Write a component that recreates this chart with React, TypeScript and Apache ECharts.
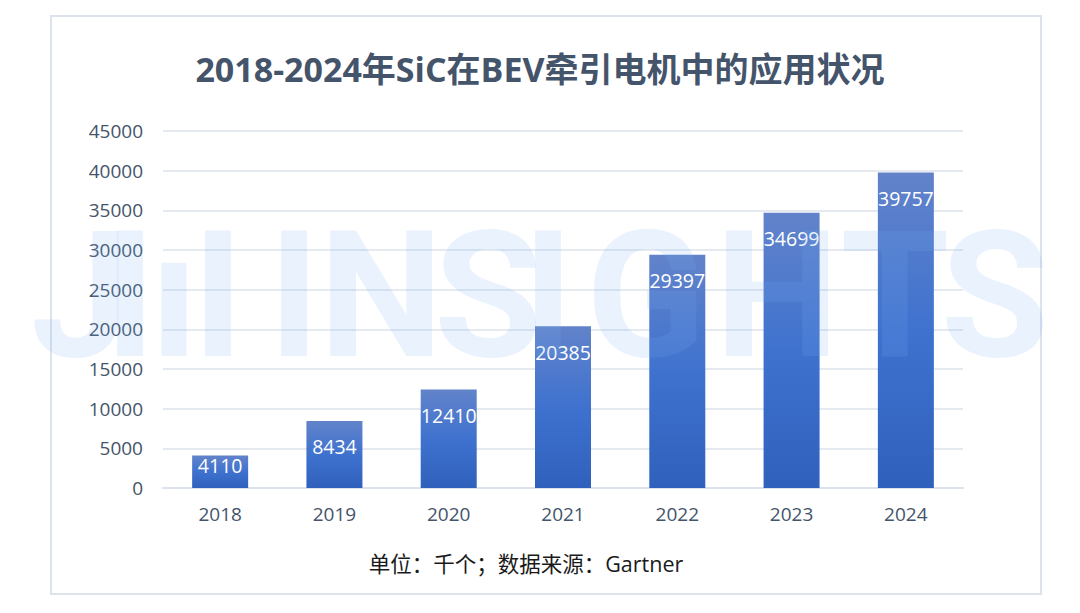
import React, { useEffect, useRef } from "react";
import * as echarts from "echarts";

const categories = ["2018", "2019", "2020", "2021", "2022", "2023", "2024"];
const values = [4110, 8434, 12410, 20385, 29397, 34699, 39757];
const yTicks = { min: 0, max: 45000, interval: 5000 };
const titleText = "2018-2024年SiC在BEV牵引电机中的应用状况";
const footText = "单位：千个；数据来源：Gartner";
const watermarkLetters = ["J", "I", "ı", "I", "I", "N", "S", "I", "G", "H", "T", "S"];
const watermarkCenters = [80, 130, 174, 218, 294, 381, 488, 548, 646, 777, 895, 995];

const FONT = "'Open Sans', 'Noto Sans CJK SC', sans-serif";

export default function App() {
  const ref = useRef<HTMLDivElement>(null);
  useEffect(() => {
    if (!ref.current) return;
    const chart = echarts.init(ref.current, null, { renderer: "svg" });
    const wm = watermarkLetters.map((ch, i) => ({
      type: "text",
      x: watermarkCenters[i],
      y: 296,
      z: 100,
      silent: true,
      style: {
        text: ch,
        fontFamily: "Roboto, sans-serif",
        fontWeight: "bold",
        fontSize: 176,
        fill: "rgba(120,175,245,0.16)",
        align: "center",
        verticalAlign: "middle",
      },
    }));
    const barData = values.map((v) =>
      v < 6000 ? { value: v, label: { distance: 0 } } : v
    );
    chart.setOption({
      animation: false,
      backgroundColor: "#ffffff",
      textStyle: { fontFamily: FONT },
      title: {
        text: titleText,
        left: "center",
        top: 47,
        textStyle: { fontSize: 34, fontWeight: "bold", color: "#44546A", fontFamily: FONT },
      },
      grid: { left: 163, right: 117, top: 131, bottom: 125, containLabel: false },
      xAxis: {
        type: "category",
        data: categories,
        axisTick: { show: false },
        axisLine: { lineStyle: { color: "#dde3ec", width: 2 } },
        axisLabel: { fontSize: 19, color: "#44546A", margin: 16, fontFamily: FONT },
      },
      yAxis: {
        type: "value",
        min: yTicks.min,
        max: yTicks.max,
        interval: yTicks.interval,
        axisLine: { show: false },
        axisTick: { show: false },
        axisLabel: {
          fontSize: 19,
          color: "#44546A",
          margin: 20,
          fontFamily: FONT,
          formatter: (v: number) => String(v),
        },
        splitLine: { lineStyle: { color: "#dde3ec", width: 1.5 } },
      },
      series: [
        {
          type: "bar",
          data: barData,
          barWidth: "49%",
          itemStyle: {
            color: new echarts.graphic.LinearGradient(0, 0, 0, 1, [
              { offset: 0, color: "#6283ca" },
              { offset: 0.5, color: "#3f72cf" },
              { offset: 1, color: "#2f60bc" },
            ]),
          },
          label: {
            show: true,
            position: "insideTop",
            distance: 16,
            color: "#ffffff",
            fontSize: 19.5,
            fontFamily: FONT,
          },
        },
      ],
      graphic: [
        {
          type: "rect",
          shape: { x: 51, y: 16, width: 990, height: 578 },
          z: 0,
          silent: true,
          style: { fill: "none", stroke: "#dce3ec", lineWidth: 2 },
        },
        {
          type: "text",
          x: 526,
          y: 563,
          silent: true,
          style: {
            text: footText,
            fontFamily: FONT,
            fontSize: 21.5,
            fill: "#1a1a1a",
            align: "center",
            verticalAlign: "middle",
          },
        },
        ...wm,
      ],
    });
    return () => chart.dispose();
  }, []);
  return (
    <div
      ref={ref}
      style={{ position: "fixed", left: 0, top: 0, width: 1080, height: 613, background: "#fff" }}
    />
  );
}
